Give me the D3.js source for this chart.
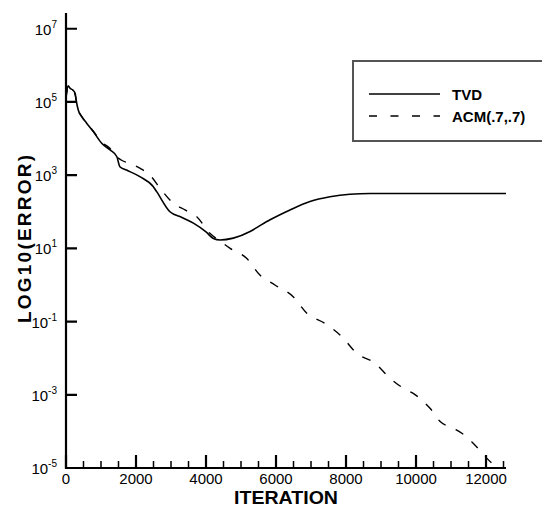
<!DOCTYPE html>
<html>
<head>
<meta charset="utf-8">
<script src="https://cdn.jsdelivr.net/npm/d3@7"></script>
<style>
  body { margin: 0; background: #fff; }
  svg { font-family: "Liberation Sans", Arial, sans-serif; }
</style>
</head>
<body>
<svg id="chart" width="542" height="507"></svg>
<script>
// iteration / log10(error)
const tvdIter = [0, 60, 120, 190, 260, 290, 350, 450, 590, 780, 1020, 1260, 1450, 1540, 1730, 2110, 2490, 2590, 2970, 3300, 3640, 4000, 4210, 4400, 4780, 5260, 5540, 5830, 6400, 6970, 7540, 8110, 8690, 10000, 12570];
const tvdLog  = [5.15, 5.44, 5.37, 5.33, 5.24, 5.05, 4.78, 4.6, 4.42, 4.19, 3.87, 3.69, 3.51, 3.23, 3.14, 2.96, 2.69, 2.55, 2.0, 1.85, 1.69, 1.45, 1.27, 1.23, 1.28, 1.46, 1.62, 1.78, 2.05, 2.28, 2.41, 2.48, 2.5, 2.5, 2.5];

const acmIter = [0, 60, 120, 190, 260, 300, 350, 450, 590, 780, 1020, 1260, 1400, 1600, 1800, 2110, 2400, 2690, 3070, 3400, 3730, 4110, 4400, 4690, 5160, 5540, 5970, 6490, 6880, 7400, 7880, 8310, 8830, 9260, 9730, 9920, 10160, 10400, 10690, 11070, 11310, 11590, 12020, 12310, 12500];
const acmLog  = [5.1, 5.4, 5.35, 5.3, 5.2, 5.0, 4.78, 4.6, 4.42, 4.2, 3.9, 3.73, 3.55, 3.4, 3.33, 3.19, 3.0, 2.64, 2.23, 2.05, 1.87, 1.41, 1.2, 1.0, 0.73, 0.27, 0.0, -0.32, -0.77, -1.05, -1.41, -1.87, -2.14, -2.55, -2.87, -2.96, -3.14, -3.37, -3.73, -3.92, -4.05, -4.28, -4.73, -5.0, -5.2];

const xMajor = [0, 2000, 4000, 6000, 8000, 10000, 12000];
const xMinor = [500, 1000, 1500, 2500, 3000, 3500, 4500, 5000, 5500, 6500, 7000, 7500, 8500, 9000, 9500, 10500, 11000, 11500, 12500];
const yExp = [-5, -3, -1, 1, 3, 5, 7];
const legendNames = ["TVD", "ACM(.7,.7)"];

const svg = d3.select("#chart");
const plotL = 66, plotR = 506, plotT = 13, plotB = 468;

const x = d3.scaleLinear().domain([0, 12571]).range([plotL, plotR]);
const y = d3.scaleLog().domain([1e-5, Math.pow(10, 7.43)]).range([plotB, plotT]);

const tvd = tvdIter.map((d, i) => [d, Math.pow(10, tvdLog[i])]);
const acm = acmIter.map((d, i) => [d, Math.pow(10, acmLog[i])]);

svg.append("clipPath").attr("id", "clip")
  .append("rect").attr("x", plotL).attr("y", plotT)
  .attr("width", plotR - plotL).attr("height", plotB - plotT);

const line = d3.line().x(d => x(d[0])).y(d => y(d[1])).curve(d3.curveMonotoneX);

const plot = svg.append("g").attr("clip-path", "url(#clip)");
plot.append("path").datum(acm)
  .attr("fill", "none").attr("stroke", "#000").attr("stroke-width", 1.4)
  .attr("stroke-dasharray", "9,11").attr("d", line);
plot.append("path").datum(tvd)
  .attr("fill", "none").attr("stroke", "#000").attr("stroke-width", 1.6)
  .attr("d", line);

// tick marks drawn as one path each, pointing inward
const minorPath = d3.path();
xMinor.forEach(d => { minorPath.moveTo(x(d), plotB); minorPath.lineTo(x(d), plotB - 7); });
const majorPath = d3.path();
xMajor.forEach(d => { majorPath.moveTo(x(d), plotB); majorPath.lineTo(x(d), plotB - 13); });
yExp.forEach(d => { const yy = y(Math.pow(10, d)); majorPath.moveTo(plotL, yy); majorPath.lineTo(plotL + 11, yy); });
svg.append("path").attr("d", minorPath.toString())
  .attr("fill", "none").attr("stroke", "#000").attr("stroke-width", 1.5);
svg.append("path").attr("d", majorPath.toString())
  .attr("fill", "none").attr("stroke", "#000").attr("stroke-width", 2.2);

svg.selectAll("text.xlab").data(xMajor).join("text").attr("class", "xlab")
  .attr("x", d => x(d)).attr("y", 484)
  .attr("text-anchor", "middle").attr("font-size", 15)
  .text(d => d);

const ylab = svg.selectAll("text.ylab").data(yExp).join("text").attr("class", "ylab")
  .attr("x", 57).attr("y", d => y(Math.pow(10, d)) + 6)
  .attr("text-anchor", "end").attr("font-size", 15);
ylab.append("tspan").text("10");
ylab.append("tspan").attr("dy", -7).attr("font-size", 10).text(d => d);

// axis lines
svg.append("line").attr("x1", plotL).attr("x2", plotL).attr("y1", plotT).attr("y2", plotB + 1)
  .attr("stroke", "#000").attr("stroke-width", 2.2);
svg.append("line").attr("x1", plotL - 1).attr("x2", plotR).attr("y1", plotB).attr("y2", plotB)
  .attr("stroke", "#000").attr("stroke-width", 2.2);

// titles
svg.append("text").attr("x", 286).attr("y", 504)
  .attr("text-anchor", "middle").attr("font-weight", "bold").attr("font-size", 19)
  .attr("textLength", 104).attr("lengthAdjust", "spacingAndGlyphs")
  .text("ITERATION");
svg.append("text").attr("transform", "translate(31,239) rotate(-90)")
  .attr("text-anchor", "middle").attr("font-weight", "bold").attr("font-size", 19)
  .attr("textLength", 168).attr("lengthAdjust", "spacing")
  .text("LOG10(ERROR)");

// legend
svg.append("rect").attr("x", 353).attr("y", 61).attr("width", 200).attr("height", 80)
  .attr("fill", "#fff").attr("stroke", "#555").attr("stroke-width", 2);
const leg = svg.selectAll("g.leg").data(legendNames).join("g").attr("class", "leg")
  .attr("transform", (d, i) => `translate(0,${94 + i * 22})`);
leg.append("line").attr("x1", 369).attr("x2", 440).attr("y1", 0).attr("y2", 0)
  .attr("stroke", "#000").attr("stroke-width", 1.3)
  .attr("stroke-dasharray", (d, i) => i ? "8,13.5" : null);
leg.append("text").attr("x", 452).attr("y", 5.5)
  .attr("font-weight", "bold").attr("font-size", 15).text(d => d);
</script>
</body>
</html>
